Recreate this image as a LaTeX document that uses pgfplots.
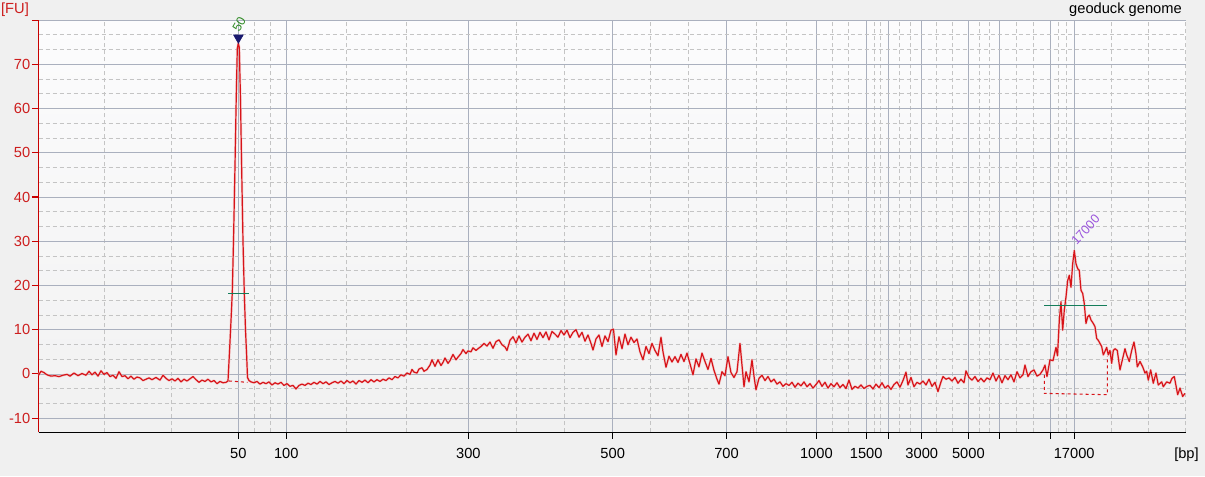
\documentclass[border=0pt]{standalone}
\usepackage{fontspec}
\setmainfont{Liberation Sans}
\usepackage{pgfplots}
\pgfplotsset{compat=1.18}
\definecolor{trace}{RGB}{215,20,25}
\definecolor{glow}{RGB}{245,185,185}
\definecolor{axred}{RGB}{200,0,0}
\definecolor{labred}{RGB}{205,30,30}
\definecolor{gridmaj}{RGB}{170,176,190}
\definecolor{gridmin}{RGB}{196,196,196}
\definecolor{bgout}{RGB}{240,240,240}
\definecolor{bgtop}{RGB}{252,252,253}
\definecolor{bgbot}{RGB}{241,241,241}
\definecolor{peakgreen}{RGB}{20,125,90}
\definecolor{navy}{RGB}{25,25,110}
\definecolor{lblgreen}{RGB}{50,140,40}
\definecolor{lblpurple}{RGB}{155,85,220}
\begin{document}
\begin{tikzpicture}
\fill[bgout] (0,0) rectangle (903.75pt,357pt);
\path[use as bounding box] (0,0) rectangle (903.75pt,357pt);
\begin{axis}[
  at={(28.875pt,32.775pt)}, anchor=south west,
  scale only axis, width=860.3pt, height=309.2pt,
  xmin=38.5, xmax=1185.6, ymin=-13.2, ymax=80,
  axis lines=left,
  axis line style={-},
  x axis line style={draw=black, line width=0.9pt},
  y axis line style={draw=axred, line width=1.1pt},
  tick align=outside,
  major tick length=5pt,
  minor tick length=0pt,
  xtick={238.4,286.3,468.4,612.7,726.5,816.4,866.2,888.2,921.8,968.4,999.3,1050.2,1074.2},
  xticklabels={50,100,300,500,700,1000,1500,{},3000,5000,{},{},17000},
  minor xtick={104.5,171.4,254.5,270.6,346.7,406.4,516.3,564.5,650.5,688.7,756.2,786.7,832.3,848.5,873.9,880.5,899.4,910.6,936.8,951.9,978.9,988.9,1016.7,1033.6,1058.3,1066.4,1111.6,1148.6,1185.6},
  ytick={-10,0,10,20,30,40,50,60,70,80},
  yticklabels={-10,0,10,20,30,40,50,60,70,{}},
  minor y tick num=2,
  grid=both,
  major grid style={draw=gridmaj, line width=0.6pt},
  minor grid style={draw=gridmin, dash pattern=on 3pt off 2.25pt, line width=0.5pt},
  xtick style={draw=black, line width=0.8pt},
  ytick style={draw=axred, line width=0.8pt},
  tick label style={font=\fontsize{11}{12}\selectfont},
  yticklabel style={text=labred, anchor=east, inner sep=0pt, xshift=-1pt},
  xticklabel style={anchor=north, inner sep=0pt, yshift=-6.5pt},
  clip=false,
  axis background/.style={shade, top color=bgtop, bottom color=bgbot},
]
\addplot[trace, line width=0.9pt, line join=round, no markers, preaction={draw=glow, line width=1.9pt, opacity=0.55}] coordinates {
(38.5,-0.3)(41,0.6)(44,0.3)(47,-0.2)(51,-0.5)(55,-0.4)(59,-0.6)(63,-0.3)(67,-0.1)(70,-0.5)(74,0.2)(78,-0.4)(82,0.1)(86,-0.3)(89,0.6)(92,-0.2)(95,0.4)(98,-0.5)(101,0.7)(104,-0.1)(107,0.3)(110,-0.6)(113,-0.3)(116,-1.0)(119,0.5)(122,-0.6)(125,-0.4)(128,-1.1)(131,-0.5)(134,-1.2)(137,-0.7)(140,-0.9)(143,-1.5)(146,-1.2)(149,-0.9)(152,-1.3)(156,-0.8)(160,-1.4)(163,-0.3)(166,-1.0)(169,-1.5)(172,-1.1)(175,-1.6)(178,-1.0)(181,-1.8)(184,-1.2)(187,-1.6)(190,-1.1)(193,-0.6)(196,-1.3)(199,-1.9)(202,-1.4)(205,-1.7)(208,-1.2)(211,-1.8)(214,-1.5)(217,-2.2)(220,-1.7)(223,-2.0)(226,-1.9)(228,-1.6)
(229.5,5)(231,12)(232.3,18.5)(233.5,30)(235,47)(236.2,62)(237.3,73.5)(238.3,74.8)(239.3,73.8)(240.5,62)(241.7,46)(243,30)(244.3,18.2)(245.5,10)(246.7,3.9)(247.5,-0.8)(249,-1.5)
(251,-1.8)(254,-2.0)(257,-1.7)(260,-2.3)(263,-1.9)(266,-2.2)(269,-1.8)(272,-2.5)(275,-2.0)(278,-2.3)(281,-1.9)(284,-2.6)(287,-2.2)(290,-2.8)(293,-2.6)(296,-3.4)(299,-2.6)(302,-2.3)(305,-2.6)(308,-2.1)(311,-2.4)(314,-1.9)(317,-2.3)(320,-1.7)(323,-2.2)(326,-1.8)(329,-2.4)(332,-2.0)(335,-1.7)(338,-2.1)(341,-1.6)(344,-2.2)(347,-1.5)(350,-2.0)(353,-1.6)(356,-2.3)(359,-1.5)(362,-1.9)(365,-1.4)(368,-2.0)(371,-1.3)(374,-1.8)(377,-1.3)(380,-1.7)(383,-1.2)(386,-1.5)(389,-0.9)(392,-1.3)(395,-0.6)(398,-0.9)(401,-0.2)(404,-0.5)(407,0.2)(410,-0.1)(412,1.0)(414,0.4)(417,0.2)(419,1.1)(422,1.4)(424,0.6)(427,1.0)(430,2.0)(432,3.2)(435,1.7)(438,3.2)(441,1.9)(443,2.6)(445,3.6)(448,2.4)(450,3.0)(453,4.4)(456,3.2)(458,3.8)(461,4.6)(463,5.5)(466,4.6)(468,5.2)(471,5.0)(473,5.9)(476,5.3)(478,5.7)
(481,6.2)(484,6.9)(487,6.3)(490,7.2)(493,5.8)(496,7.3)(499,7.7)(502,6.6)(505,6.1)(507,5.3)(510,7.6)(513,8.4)(516,7.0)(519,8.6)(522,7.2)(525,8.3)(528,9.0)(531,7.5)(534,9.2)(537,7.8)(540,9.4)(543,8.2)(546,9.5)(549,7.7)(552,9.6)(555,9.0)(558,8.3)(561,9.8)(564,8.8)(567,9.9)(570,8.2)(573,9.4)(576,10.0)(579,8.3)(582,9.4)(585,7.4)(588,8.8)(591,6.9)(593,5.4)(596,7.9)(599,8.8)(602,6.2)(605,8.6)(608,7.3)(611,9.9)(613.5,10.1)(616,4.3)(619,8.4)(622,5.7)(625,9.0)(628,6.6)(631,8.3)(634,7.1)(637,7.9)(640,5.0)(643,3.2)(646,6.2)(649,4.6)(652,6.9)(655,5.3)(658,4.1)(661,8.3)(663,5.0)(666,1.5)(669,4.0)(672,2.7)(675,3.9)(678,2.6)(681,4.4)(684,2.8)(687,4.7)(690,2.3)(693,-0.2)(696,3.4)(699,1.6)(702,4.7)(705,2.8)(708,1.0)(711,3.5)(714,0.8)(717,-1.2)(719,-2.3)(722,0.5)(725,-0.4)(728,3.9)(731,0.3)(734,-0.8)(737,0.5)(740,6.9)(742,2.0)(744,-2.9)(746,0.5)(749,-1.8)(752,3.2)(754,-0.5)(756,-3.6)(759,-1.0)(762,-0.3)(765,-1.5)(768,-0.6)(771,-1.8)(774,-1.2)(777,-2.3)(780,-1.8)(783,-2.8)(786,-2.2)(789,-2.6)(792,-1.9)(795,-3.0)(798,-2.1)(801,-2.7)(804,-1.8)(807,-2.9)(810,-2.2)(813,-3.2)
(816,-2.4)(819,-1.5)(822,-2.8)(825,-1.9)(828,-3.2)(831,-2.2)(834,-2.9)(837,-2.0)(840,-3.1)(843,-2.4)(846,-3.3)(849,-1.4)(852,-3.5)(855,-2.8)(858,-3.2)(861,-2.5)(864,-3.3)(867,-2.8)(870,-2.6)(873,-3.4)(876,-2.3)(879,-3.1)(882,-2.0)(885,-3.2)(888,-2.6)(891,-3.5)(894,-2.4)(897,-1.8)(900,-3.0)(903,-1.5)(906,0.4)(908,-2.5)(911,-0.8)(914,-2.9)(917,-1.9)(920,-2.3)(923,-1.6)(926,-2.5)(929,-1.2)(932,-2.8)(935,-1.9)(938,-4.0)(941,-1.8)(943,-0.6)(946,-1.2)(949,-0.9)(952,-1.6)(955,-0.8)(958,-2.1)(961,-1.2)(964,-2.0)(966,0.7)(969,-0.8)(972,-1.4)(975,-0.6)(978,-1.7)(981,-1.0)(984,-1.8)(987,-0.9)(990,-1.3)(993,0.2)(996,-1.6)(999,-0.3)(1002,-2.0)(1005,-0.4)(1008,-1.3)(1011,-0.2)(1014,-1.8)(1017,0.5)(1020,-0.9)(1023,-0.2)(1025,2.0)(1028,-0.6)(1031,0.5)(1034,0.9)(1037,-0.5)(1040,-0.1)(1043,0.9)(1045,2.0)(1047,-0.6)
(1050,3.2)(1053,3.0)(1056,6.0)(1057.5,4.1)(1059.3,12)(1061,16.3)(1062.7,9.9)(1064.3,14.4)(1066,17.4)(1067.7,21.1)(1069.3,22.3)(1071,19.6)(1072.7,24.9)(1074.3,27.9)(1076,24.9)(1077.7,23.8)(1079.3,23.4)(1081,18.9)(1082.7,18.2)(1084.3,15.9)(1086,11.4)(1087.7,12.9)(1089.3,13.3)(1091,12.2)(1093.3,11.4)(1095,10.7)(1096.7,8.0)(1098.3,7.6)(1100,6.9)(1101.7,6.2)(1103.3,4.3)(1105,5.1)(1106.7,6.0)(1108.3,4.3)(1110,5.3)(1111.7,2.4)(1113.3,5.3)(1115,5.7)(1117.3,5.3)(1120,0.9)(1122.7,3.5)(1125,5.7)(1126.7,4.3)(1129.3,2.8)(1131.7,5.3)(1134,7.2)(1136,4.5)(1137.3,1.6)(1140,2.8)(1142.7,1.6)(1145,0.2)(1146.7,0.6)(1148.3,-1.4)(1150.7,0.9)(1153.3,-2.1)(1156,0.2)(1158.3,-2.5)(1161.7,-1.8)(1163.3,-2.9)(1166.7,-1.8)(1170,-2.1)(1172,-1.0)(1174.3,-0.6)(1177.7,-4.7)(1180,-3.2)(1182.7,-5.1)(1185,-4.4)
};
% peak baselines (dashed)
\addplot[trace, line width=0.8pt, dash pattern=on 2.25pt off 2.25pt, no markers] coordinates {(229,-1.6)(247.5,-1.9)};
\addplot[trace, line width=0.8pt, dash pattern=on 2.25pt off 2.25pt, no markers] coordinates {(1044.3,-0.2)(1044.3,-4.4)(1107.3,-4.7)(1107.3,4.0)};
% peak width markers
\addplot[peakgreen, line width=0.8pt, no markers] coordinates {(228.3,18.2)(249.3,18.2)};
\addplot[peakgreen, line width=0.8pt, no markers] coordinates {(1044.3,15.5)(1106.7,15.5)};
% peak marker
\addplot[only marks, mark=triangle*, mark size=4.2pt, mark options={rotate=180, fill=navy, draw=navy}] coordinates {(238.4,76.0)};
% labels
\node[rotate=60, text=lblgreen, font=\fontsize{9.5}{10}\selectfont, inner sep=0pt] at (axis cs:239,79.0) {50};
\node[rotate=48, text=lblpurple, font=\fontsize{9.5}{10}\selectfont, inner sep=0pt] at (axis cs:1085.5,32.6) {17000};
\node[text=labred, font=\fontsize{11}{12}\selectfont, inner sep=0pt] at (axis cs:15,82.3) {[FU]};
\node[anchor=east, font=\fontsize{11}{12}\selectfont, inner sep=0pt] at (axis cs:1182,82.3) {geoduck genome};
\node[font=\fontsize{11}{12}\selectfont, inner sep=0pt] at (axis cs:1186.5,-18.2) {[bp]};
\end{axis}
\end{tikzpicture}
\end{document}
